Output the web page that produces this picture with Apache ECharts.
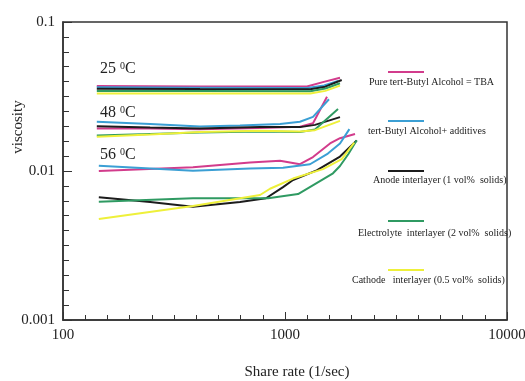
<!DOCTYPE html>
<html>
<head>
<meta charset="utf-8">
<script src="https://cdn.jsdelivr.net/npm/echarts@6/dist/echarts.min.js"></script>
<style>
  html, body { margin: 0; padding: 0; background: #fff; }
  #main { width: 525px; height: 381px; }
</style>
</head>
<body>
<div id="main"></div>
<script>
// [share rate, viscosity] pairs
var tba25 = [[142, 0.0372], [414, 0.0369], [1256, 0.0369], [1480, 0.0395], [1769, 0.0423]];
var add25 = [[142, 0.0365], [414, 0.0362], [1260, 0.0360], [1500, 0.0375], [1733, 0.0402]];
var anode25 = [[142, 0.0357], [414, 0.0355], [1300, 0.0354], [1520, 0.0368], [1801, 0.0408]];
var elec25 = [[142, 0.0344], [414, 0.0344], [1300, 0.0343], [1520, 0.0358], [1769, 0.0388]];
var cath25 = [[142, 0.0331], [414, 0.0331], [1300, 0.0331], [1520, 0.0345], [1769, 0.0374]];

var tba48 = [[142, 0.0193], [247, 0.0193], [414, 0.0191], [772, 0.0194], [1168, 0.0198], [1337, 0.0209], [1546, 0.0315]];
var add48 = [[142, 0.0214], [247, 0.0207], [414, 0.0199], [627, 0.0202], [950, 0.0207], [1168, 0.0214], [1337, 0.0231], [1578, 0.0303]];
var anode48 = [[142, 0.0200], [247, 0.0196], [414, 0.0193], [772, 0.0197], [1168, 0.0197], [1365, 0.0204], [1769, 0.0230]];
var elec48 = [[142, 0.0173], [247, 0.0177], [414, 0.0181], [772, 0.0184], [1168, 0.0183], [1365, 0.0190], [1733, 0.0261]];
var cath48 = [[142, 0.0170], [247, 0.0176], [414, 0.0183], [772, 0.0186], [1168, 0.0184], [1365, 0.0188], [1769, 0.0217]];

var tba56 = [[145, 0.0100], [385, 0.0106], [696, 0.0114], [950, 0.0117], [1168, 0.0111], [1337, 0.0124], [1595, 0.0153], [1769, 0.0166], [2067, 0.0177]];
var add56 = [[145, 0.01085], [385, 0.01005], [696, 0.0104], [980, 0.0105], [1296, 0.0111], [1560, 0.0131], [1769, 0.0153], [1950, 0.0191]];
var anode56 = [[145, 0.00666], [247, 0.0062], [385, 0.00576], [627, 0.0062], [821, 0.00656], [980, 0.0078], [1087, 0.0087], [1389, 0.0101], [1769, 0.0125], [2104, 0.0160]];
var elec56 = [[145, 0.00622], [385, 0.00656], [840, 0.00656], [1145, 0.0070], [1645, 0.00965], [1769, 0.0108], [1930, 0.0130], [2104, 0.0161]];
var cath56 = [[145, 0.00476], [385, 0.00582], [772, 0.0069], [856, 0.0076], [1087, 0.0089], [1483, 0.0103], [1801, 0.0120], [2050, 0.0155]];

var names = [
  'Pure tert-Butyl Alcohol = TBA',
  'tert-Butyl Alcohol+ additives',
  'Anode interlayer (1 vol%  solids)',
  'Electrolyte  interlayer (2 vol%  solids)',
  'Cathode   interlayer (0.5 vol%  solids)'
];
var temps = ['25', '48', '56'];
var colors = ['#d23c8c', '#3b9fd4', '#1c1c1c', '#2f9a62', '#eef03a'];

var groups = [
  [tba25, add25, anode25, elec25, cath25],
  [tba48, add48, anode48, elec48, cath48],
  [tba56, add56, anode56, elec56, cath56]
];

var serif = 'Liberation Serif';
var chart = echarts.init(document.getElementById('main'));

var series = [];
groups.forEach(function (grp, g) {
  grp.forEach(function (d, i) {
    series.push({
      name: names[i] + ' (' + temps[g] + ' °C)',
      type: 'line',
      data: d,
      symbol: 'none',
      lineStyle: { color: colors[i], width: 2 },
      itemStyle: { color: colors[i] },
      z: 2 + i
    });
  });
});

// temperature tags, "25 °C" with a raised 0
var tempTop = [61, 105, 147];
var graphics = [];
temps.forEach(function (t, g) {
  graphics.push({
    type: 'text',
    left: 100,
    top: tempTop[g],
    style: {
      text: '{n|' + t + ' }{s|0}{n|C}',
      rich: {
        n: { fontFamily: serif, fontSize: 16, fill: '#222' },
        s: { fontFamily: serif, fontSize: 10, fill: '#222', verticalAlign: 'top' }
      }
    }
  });
});

// legend drawn by hand: short line above each label
var legLineY = [72, 121, 171, 221, 270];
var legTextY = [82, 131, 180, 233, 280];
var legTextX = [369, 368, 373, 358, 352];
names.forEach(function (n, i) {
  graphics.push({
    type: 'line',
    shape: { x1: 388, y1: legLineY[i], x2: 424, y2: legLineY[i] },
    style: { stroke: colors[i], lineWidth: 2 }
  });
  graphics.push({
    type: 'text',
    x: legTextX[i],
    y: legTextY[i],
    style: {
      text: n,
      fontFamily: serif,
      fontSize: 10,
      fill: '#222',
      align: 'left',
      verticalAlign: 'middle'
    }
  });
});

// tick-only axes: the original puts 10 evenly spaced ticks in each decade
var tickAxis = {
  type: 'value',
  interval: 0.1,
  axisLine: { show: false },
  axisLabel: { show: false },
  splitLine: { show: false },
  axisTick: { inside: true, lineStyle: { color: '#333' } }
};

var option = {
  animation: false,
  grid: {
    left: 63, right: 18, top: 22, bottom: 61,
    outerBoundsMode: 'none',
    containLabel: false,
    show: true, borderColor: '#333', borderWidth: 1.5
  },
  xAxis: [{
    type: 'log',
    logBase: 10,
    min: 100,
    max: 10000,
    name: 'Share rate (1/sec)',
    nameLocation: 'middle',
    nameGap: 45,
    nameMoveOverlap: false,
    nameTextStyle: { fontFamily: serif, fontSize: 15, color: '#222', padding: [0, 0, 0, 24] },
    axisLine: { lineStyle: { color: '#333', width: 1.5 } },
    axisTick: { inside: true, length: 8, lineStyle: { color: '#333' } },
    minorTick: { show: false },
    axisLabel: {
      fontFamily: serif, fontSize: 15, color: '#222', margin: 8,
      formatter: function (v) { return String(Math.round(v)); }
    },
    splitLine: { show: false },
    minorSplitLine: { show: false }
  }, Object.assign({}, tickAxis, {
    position: 'bottom', min: 2, max: 4,
    axisTick: { inside: true, length: 5, lineStyle: { color: '#333' } }
  })],
  yAxis: [{
    type: 'log',
    logBase: 10,
    min: 0.001,
    max: 0.1,
    name: 'viscosity',
    nameLocation: 'middle',
    nameGap: 37,
    nameMoveOverlap: false,
    nameTextStyle: { fontFamily: serif, fontSize: 15, color: '#222', padding: [0, 0, 0, 88] },
    axisLine: { lineStyle: { color: '#333', width: 1.5 } },
    axisTick: { inside: true, length: 9, lineStyle: { color: '#333' } },
    minorTick: { show: false },
    axisLabel: {
      fontFamily: serif, fontSize: 15, color: '#222', margin: 8,
      formatter: function (v) { return String(Number(v.toPrecision(1))); }
    },
    splitLine: { show: false },
    minorSplitLine: { show: false }
  }, Object.assign({}, tickAxis, {
    position: 'left', min: -3, max: -1,
    axisTick: { inside: true, length: 6, lineStyle: { color: '#333' } }
  })],
  graphic: graphics,
  series: series
};

chart.setOption(option);
</script>
</body>
</html>
